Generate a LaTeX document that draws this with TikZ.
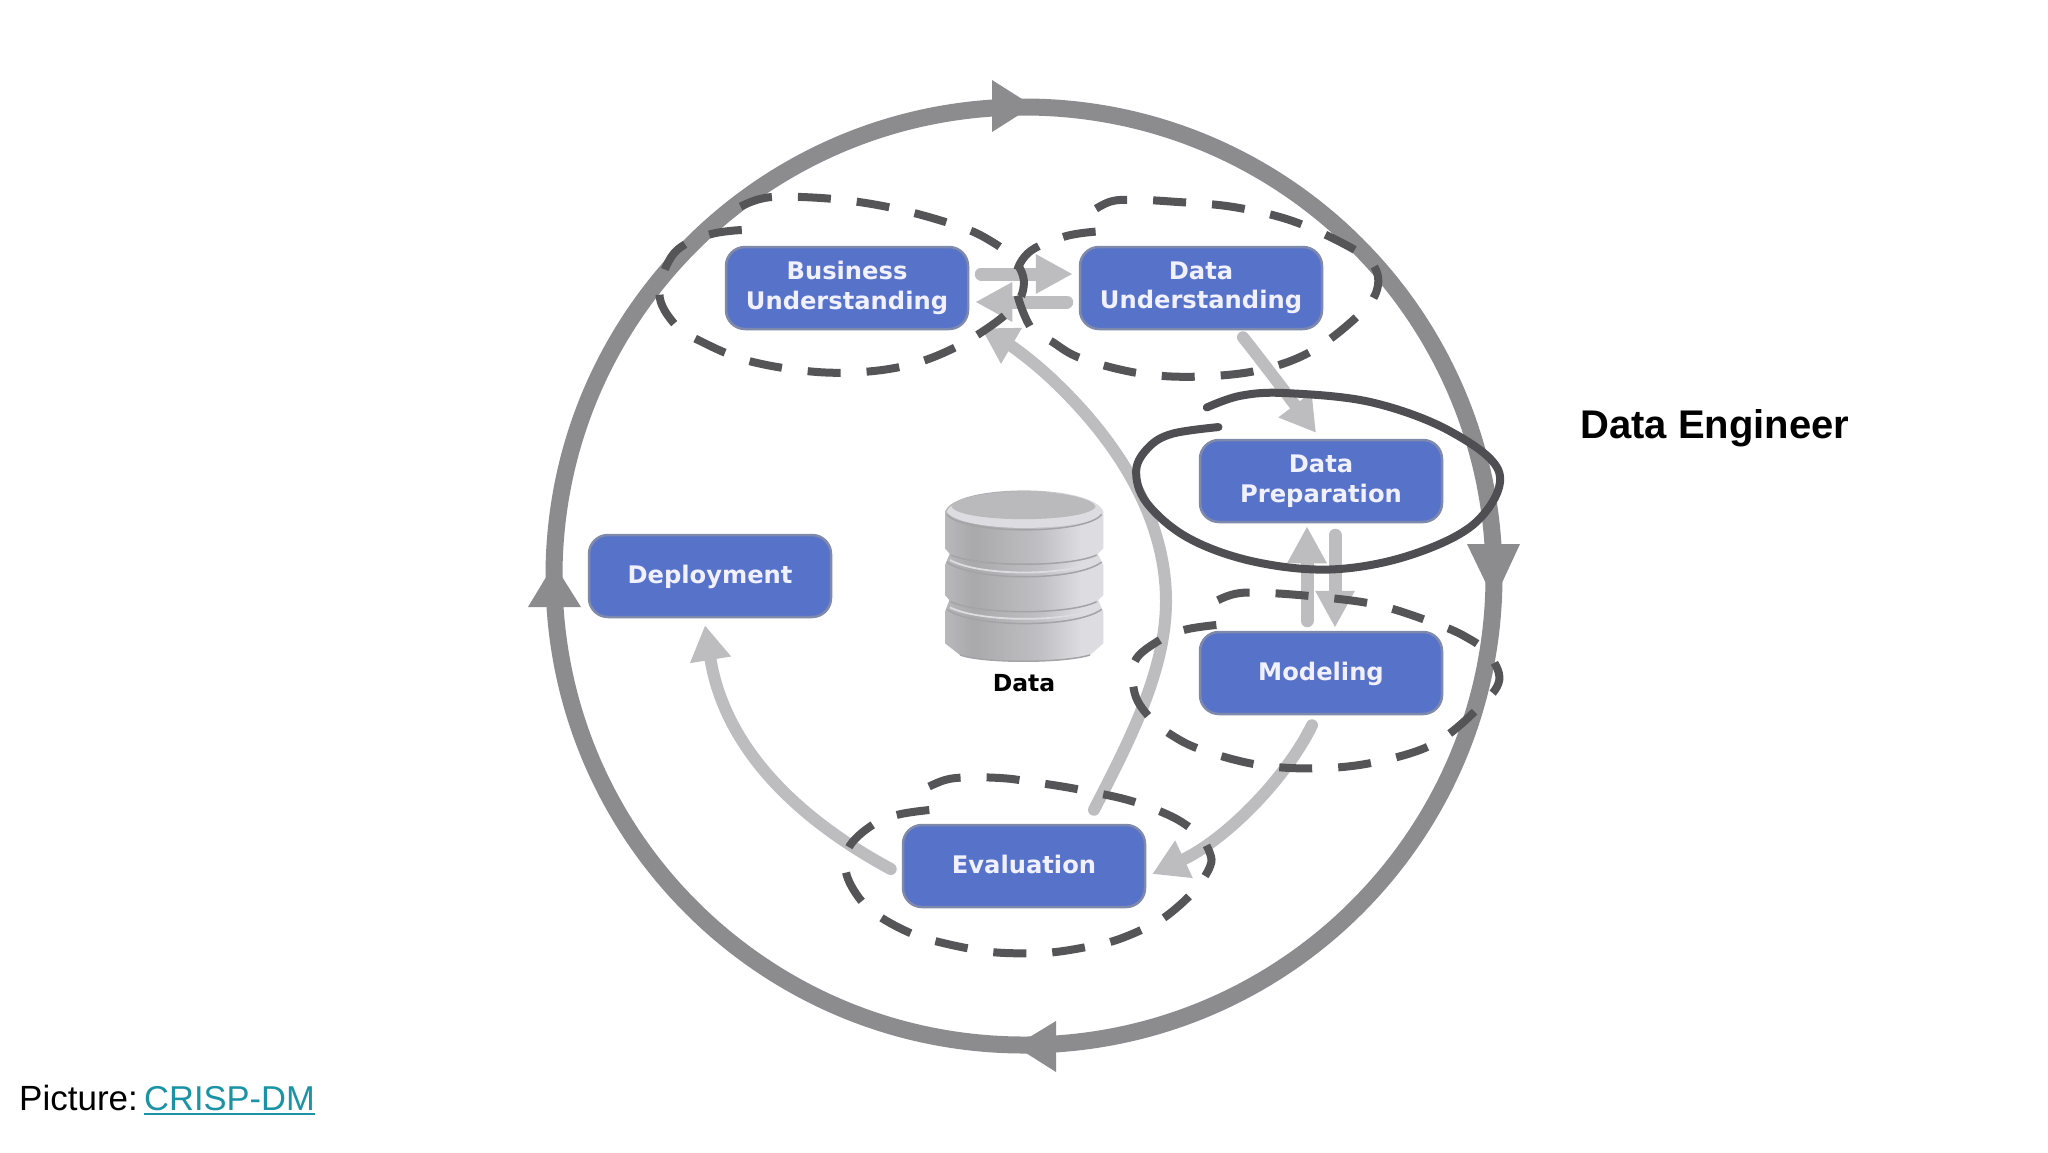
\documentclass[tikz,border=0pt]{standalone}
\usepackage{fontspec}
\setmainfont{DejaVu Sans}
\newfontfamily\arialfont{Liberation Sans}
\usetikzlibrary{arrows.meta,calc}
\definecolor{boxblue}{HTML}{5772C9}
\definecolor{boxedge}{HTML}{7E89AB}
\definecolor{ringgray}{HTML}{8C8C8F}
\definecolor{flowgray}{HTML}{BDBDBF}
\definecolor{dashgray}{HTML}{555558}
\definecolor{solidgray}{HTML}{4E4E53}
\definecolor{linkteal}{HTML}{1B93A6}
\definecolor{dbdark}{HTML}{A9A9AC}
\definecolor{dblight}{HTML}{DCDCE1}
\definecolor{dbtopcol}{HTML}{BABABC}
\definecolor{dbline}{HTML}{A4A4A7}
\pgfdeclarehorizontalshading{dbshade}{100bp}{
  color(0bp)=(dbdark); color(25bp)=(dbdark!70!dblight); color(34bp)=(dbdark); color(55bp)=(dbdark!55!dblight);
  color(68bp)=(dblight); color(75bp)=(dblight); color(100bp)=(dbdark)}
\tikzset{
  phase/.style={draw=boxedge,line width=2.5pt,fill=boxblue,rounded corners=19pt,
    minimum width=242pt,minimum height=82pt,inner sep=0pt,align=center,text=white!94!blue,
    font=\fontsize{24.2}{29.5}\selectfont\bfseries},
  oneline/.style={text height=19pt,text depth=5pt},
  twoline/.style={execute at begin node={\rule{0pt}{20pt}}},
  flow/.style={draw=flowgray,line width=12pt,line cap=round,
    -{Triangle[length=35pt,width=39pt,fill=flowgray]}},
  flowthick/.style={draw=flowgray,line width=13pt,line cap=round,
    -{Triangle[length=37pt,width=37pt,fill=flowgray]}},
  ringhead/.style={fill=ringgray,draw=none},
  dashring/.style={draw=dashgray,line width=8pt,dash pattern=on 33pt off 26pt},
  solidring/.style={draw=solidgray,line width=8pt,line cap=round},
  dbbody/.style={shading=dbshade,draw=none},
  dbrim/.style={draw=dblight,line width=1.8pt},
  dbseam/.style={draw=dbline,line width=1.5pt},
}
\begin{document}
\begin{tikzpicture}[x=1pt,y=-1pt]
\useasboundingbox (0,0) rectangle (2048,1152);
\fill[white] (0,0) rectangle (2048,1152);

% outer cycle
\draw[ringgray,line width=17pt] (1024,576) ellipse [x radius=470,y radius=469];
\path[ringhead] (1033,106) -- (992,80) -- (992,132) -- cycle;
\path[ringhead] (1494,600) -- (1467,544) -- (1520,544) -- cycle;
\path[ringhead] (1015,1046) -- (1056,1021) -- (1056,1072) -- cycle;
\path[ringhead] (554,564) -- (528,607) -- (581,607) -- cycle;

% database
\begin{scope}[shift={(930,480)},scale=0.3333]
\path[dbbody] (62,350) -- (45,395) -- (45,490) -- (90,525) .. controls (160,550) and (400,550) .. (480,525) -- (520,490) -- (520,395) -- (500,350) -- cycle;
\path[dbbody] (62,215) -- (45,255) -- (45,345) -- (62,365) .. controls (150,405) and (420,405) .. (500,365) -- (520,345) -- (520,255) -- (500,215) -- cycle;
\path[dbbody] (45,95) -- (45,205) -- (62,225) .. controls (150,262) and (420,262) .. (500,225) -- (520,205) -- (520,95) .. controls (490,10) and (75,10) .. (45,95) -- cycle;
\path[fill=dblight] (50,95) .. controls (75,20) and (490,20) .. (515,95) .. controls (480,160) and (90,160) .. (50,95) -- cycle;
\path[fill=dbtopcol] (65,80) .. controls (90,20) and (470,20) .. (497,80) .. controls (470,130) and (90,130) .. (65,80) -- cycle;
\draw[dbseam] (50,103) .. controls (100,165) and (470,165) .. (515,103);
\draw[dbseam] (62,225) .. controls (150,262) and (420,262) .. (500,225);
\draw[dbseam] (62,365) .. controls (150,405) and (420,405) .. (500,365);
\draw[dbrim] (60,240) .. controls (150,290) and (420,290) .. (503,240);
\draw[dbseam] (50,246) .. controls (130,305) and (440,305) .. (515,246);
\draw[dbrim] (60,382) .. controls (150,428) and (420,428) .. (503,382);
\draw[dbseam] (50,388) .. controls (130,445) and (440,445) .. (515,388);
\draw[dbseam] (90,525) .. controls (160,550) and (400,550) .. (480,525);
\end{scope}
\node[text=black,font=\fontsize{23.5}{28}\selectfont\bfseries] (datalabel) at (1024,683) {Data};

% phases
\node[phase,twoline] (bu) at (847,288) {Business\\Understanding};
\node[phase,twoline] (du) at (1201,288) {Data\\Understanding};
\node[phase,twoline] (dp) at (1321,481) {Data\\Preparation};
\node[phase,oneline] (mo) at (1321,673) {Modeling};
\node[phase,oneline] (ev) at (1024,866) {Evaluation};
\node[phase,oneline] (de) at (710,576) {Deployment};

% flows
\draw[flowthick] ([shift={(12,-14)}]bu.east) -- ([shift={(-6,-14)}]du.west);
\draw[flowthick] ([shift={(-12,14)}]du.west) -- ([shift={(6,14)}]bu.east);
\draw[flowthick] ([shift={(-14,-10)}]mo.north) -- ([shift={(-14,3)}]dp.south);
\draw[flowthick] ([shift={(14,12)}]dp.south) -- ([shift={(14,-3)}]mo.north);
\draw[flow] ([shift={(42,7)}]du.south) .. controls (1265,365) and (1295,405) .. ([shift={(-5,-6)}]dp.north);
\draw[flow] ([shift={(70,-14)}]ev.north) .. controls (1130,740) and (1166,670) .. (1166,601) .. controls (1166,520) and (1120,445) .. (1058,385) .. controls (1035,362) and (1010,345) .. ([shift={(12,-2)}]bu.south east);
\draw[flow] ([shift={(-9,10)}]mo.south) .. controls (1285,780) and (1225,840) .. ([shift={(6,8)}]ev.east);
\draw[flow] ([shift={(-11,3)}]ev.west) .. controls (800,820) and (725,750) .. ([shift={(-5,7)}]de.south);

% role rings
\begin{scope}[shift={(640,170)},xscale=0.4847,yscale=0.3333]
\draw[dashring] plot[smooth,tension=0.6] coordinates {(210,180) (140,195) (70,250) (40,370) (70,460) (120,510) (230,575) (390,608) (540,590) (660,525) (765,420) (792,340) (770,265) (720,210) (660,170) (540,120) (420,90) (300,80) (240,90) (180,130)};
\draw[dashring] plot[smooth,tension=0.6] coordinates {(940,185) (875,200) (800,250) (775,340) (805,470) (850,515) (910,565) (1030,610) (1150,620) (1280,600) (1390,540) (1490,425) (1522,350) (1510,280) (1450,220) (1340,150) (1220,110) (1100,95) (1030,90) (970,95) (915,140)};
\end{scope}
\begin{scope}[shift={(900,460)},xscale=0.4082,yscale=0.3333]
\draw[dashring] plot[smooth,tension=0.6] coordinates {(775,495) (695,510) (630,545) (575,605) (575,700) (610,770) (665,825) (740,870) (880,915) (1030,925) (1170,905) (1310,850) (1420,740) (1468,660) (1440,580) (1385,530) (1310,490) (1170,435) (1020,410) (880,398) (810,405) (740,445)};
\end{scope}
\begin{scope}[shift={(820,760)},scale=0.3333]
\draw[dashring] plot[smooth,tension=0.6] coordinates {(328,150) (230,165) (150,200) (85,265) (80,345) (130,430) (195,480) (285,525) (365,548) (460,568) (537,578) (637,580) (716,575) (815,558) (890,540) (985,500) (1050,460) (1125,390) (1170,320) (1170,280) (1140,230) (1075,180) (985,140) (905,115) (810,95) (730,80) (630,65) (555,55) (455,52) (375,60) (290,98)};
\end{scope}
\begin{scope}[scale=1.306]
\draw[solidring] plot[smooth,tension=0.6] coordinates {(924,312) (950,303) (985,301) (1050,308) (1110,330) (1148,362) (1130,400) (1080,425) (1020,436) (960,430) (910,412) (878,385) (870,360) (880,342) (898,332) (933,327)};
\end{scope}

% labels
\node[text=black,font=\arialfont\bfseries\fontsize{40}{48}\selectfont] (role) at (1715,428) {Data Engineer};
\node[anchor=base west,inner sep=0pt,text=black,font=\arialfont\fontsize{35}{42}\selectfont] (credit) at (19,1110) {Picture:};
\node[anchor=base west,inner sep=0pt,text=linkteal,font=\arialfont\fontsize{34.5}{42}\selectfont] (link) at (144,1110) {CRISP-DM};
\draw[linkteal,line width=2pt] ([yshift=-4pt]link.base west) -- ([yshift=-4pt]link.base east);
\end{tikzpicture}
\end{document}
